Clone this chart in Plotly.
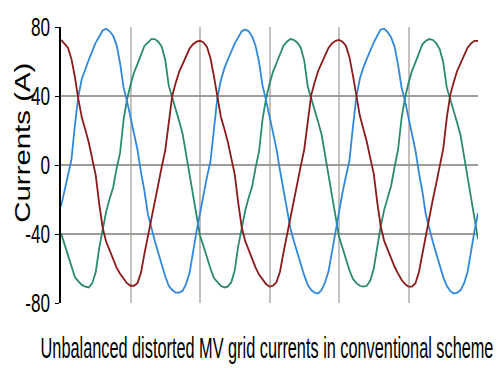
import plotly.graph_objects as go

# time axis in ms (0.5 ms step, 3 cycles of 50 Hz)
time_ms = [i * 0.5 for i in range(121)]

blue_phase = [
    -24, -15, -6, 3, 23, 40, 50, 56, 61, 66, 71, 74.5, 78, 79, 77.5, 75, 69.5, 59, 45, 37,
    27.5, 19, 9, -4, -15, -28.5, -37, -44, -51, -58, -64.5, -70, -72.5, -74, -74, -73, -69, -62.5, -50, -38.5,
    -28, -17, -7, 2, 21, 39, 49, 56, 61, 66, 70.5, 74, 77.5, 78.5, 77.5, 74.5, 69, 59.5, 46, 37.5,
    28, 19.5, 9.5, -3, -14, -27, -36.5, -44, -51, -57.5, -64, -69.5, -72.5, -74, -74.5, -72.5, -68, -61.5, -49.5, -38,
    -27, -16, -6.5, 2.5, 22, 39.5, 50, 56.5, 61.5, 66.5, 71, 75, 78.5, 79, 77, 74, 68.5, 58, 45, 37,
    27, 18.5, 8.5, -4.5, -15.5, -29, -37.5, -44.5, -51.5, -58.5, -65, -70, -73, -74.5, -74, -72.5, -68.5, -62, -49, -38,
    -28,
]

green_phase = [
    -39.5, -46, -53, -59, -65, -67.5, -69.5, -70.5, -71, -68.5, -62, -48, -36.5, -27, -19.5, -13, -2, 7, 26, 38,
    46.5, 53.5, 58.5, 64, 69, 71, 73, 73, 71.5, 68.5, 61, 46, 39.5, 33, 25.5, 18, 6, -7, -19, -31,
    -41, -47, -54, -60, -65.5, -68, -70, -71, -70.5, -68, -61, -47, -36, -26.5, -19, -12.5, -1.5, 8, 26.5, 38.5,
    47, 54, 59, 64.5, 69, 71.5, 73, 72.5, 71, 68, 60.5, 45.5, 39, 32.5, 25, 17.5, 5.5, -7.5, -19.5, -32,
    -41.5, -48, -55, -61, -66, -68.5, -70, -70.5, -70, -67, -60, -46.5, -35.5, -26, -18.5, -12, -1, 9, 27, 39,
    47.5, 54.5, 59.5, 65, 70, 72, 73, 72.5, 70.5, 67, 59.5, 45, 38.5, 32, 24.5, 17, 5, -8, -20, -32.5,
    -43,
]

red_phase = [
    72.5, 70.5, 68, 61.5, 51, 38, 27.5, 20.5, 13, 3.5, -6, -22.5, -36.5, -44.5, -49.5, -55, -59.5, -63, -66, -68.5,
    -70, -70, -68.5, -62.5, -51.5, -41, -30.5, -21, -11.5, -1, 8.5, 26, 40, 47.5, 54, 58.5, 63.5, 67.5, 70, 71.5,
    72, 71, 68.5, 62, 51.5, 38.5, 28, 21, 13.5, 4, -5.5, -22, -36, -44, -49.5, -55, -59.5, -63.5, -66.5, -69,
    -70.5, -70, -68, -62, -51, -40.5, -30, -20.5, -11, -0.5, 9, 26.5, 40.5, 48, 54.5, 59, 64, 68, 70.5, 72,
    72.5, 71.5, 69, 62.5, 52, 39, 28.5, 21, 13.5, 4, -5, -21.5, -35.5, -44, -49, -54.5, -59, -63, -66.5, -69,
    -70.5, -70.5, -68.5, -62, -51, -40, -29.5, -20, -10.5, 0, 9.5, 27, 40.5, 48, 54.5, 59, 64, 68, 70.5, 72,
    72,
]

y_ticks = [-80, -40, 0, 40, 80]
y_tick_labels = ["-80", "-40", "0", "40", "80"]
x_grid = [10, 20, 30, 40, 50]

y_title = "Currents (A)"
caption = "Unbalanced distorted MV grid currents in conventional scheme"

fig = go.Figure()
fig.add_trace(go.Scatter(x=time_ms, y=green_phase, mode="lines",
                         line=dict(color="#2a8a70", width=1.8), showlegend=False))
fig.add_trace(go.Scatter(x=time_ms, y=blue_phase, mode="lines",
                         line=dict(color="#2f88dc", width=1.8), showlegend=False))
fig.add_trace(go.Scatter(x=time_ms, y=red_phase, mode="lines",
                         line=dict(color="#8b1a1a", width=1.8), showlegend=False))

fig.update_layout(
    width=500, height=368,
    margin=dict(l=58, r=22, t=20, b=65),
    plot_bgcolor="white", paper_bgcolor="white",
    xaxis=dict(range=[0, 60], tickvals=x_grid, showticklabels=False, ticks="",
               showgrid=True, gridcolor="#c4c0bc", gridwidth=1.5,
               zeroline=False, showline=False, fixedrange=True),
    yaxis=dict(range=[-80, 80], tickvals=y_ticks, ticktext=y_tick_labels,
               showgrid=True, gridcolor="#a09c98", gridwidth=2,
               zeroline=False, showline=True, linecolor="black", linewidth=1.5,
               ticks="outside", ticklen=4, tickcolor="black", tickwidth=1,
               tickfont=dict(family="Liberation Sans, Arial, sans-serif",
                             size=26, color="black")),
    annotations=[
        dict(text=y_title, xref="paper", yref="paper", x=-0.0926, y=0.583,
             xanchor="center", yanchor="middle", textangle=-90, showarrow=False,
             font=dict(family="Liberation Sans, Arial, sans-serif", size=26, color="black")),
        dict(text=caption, xref="paper", yref="paper", x=0.495, y=-0.1625,
             xanchor="center", yanchor="middle", showarrow=False,
             font=dict(family="Liberation Sans, Arial, sans-serif",
                       size=29, color="black")),
    ],
)

# narrow (condensed) look of the original lettering: squeeze texts horizontally
post_js = """
document.body.style.margin='0';
document.body.style.overflow='hidden';
function squish(){
  var gd=document.getElementById('{plot_id}');
  if(!gd) return;
  gd.querySelectorAll('text').forEach(function(t){
    if(t.getAttribute('data-sq')) return;
    var sx=null, sy=1, cx=0, cy=0;
    var txt=t.textContent||'';
    if(t.classList.contains('annotation-text') && txt.indexOf('Unbalanced')===0){
      var w=t.getBBox().width; sx=453/w; cx=parseFloat(t.getAttribute('x'))||0;
    } else if(t.classList.contains('annotation-text') && txt.indexOf('Currents')===0){
      var bb=t.getBBox(); sx=160/bb.width; sy=0.88;
      cx=bb.x+bb.width/2; cy=bb.y+bb.height/2;
    } else if(t.closest('.ytick')){
      sx=0.66; cx=parseFloat(t.getAttribute('x'))||0;
    }
    if(sx===null) return;
    var tr=t.getAttribute('transform')||'';
    t.setAttribute('transform', tr+' translate('+cx+','+cy+') scale('+sx+','+sy+') translate('+(-cx)+','+(-cy)+')');
    t.setAttribute('data-sq','1');
  });
}
squish();
setTimeout(squish,50);
"""

fig.write_html("out.html", post_script=post_js, config={"displayModeBar": False})
